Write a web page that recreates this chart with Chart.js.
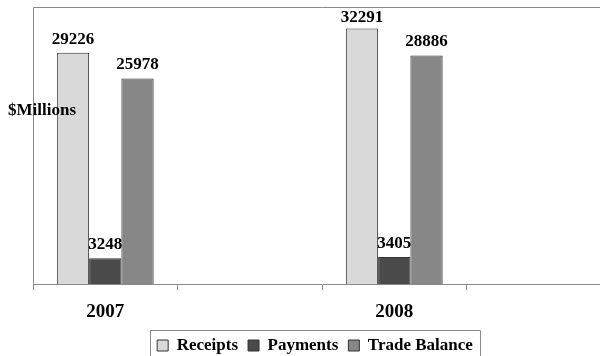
<!DOCTYPE html>
<html>
<head>
<meta charset="utf-8">
<script src="https://cdn.jsdelivr.net/npm/chart.js@4/dist/chart.umd.min.js"></script>
<style>
  html, body { margin: 0; padding: 0; background: #fff; overflow: hidden; }
  #wrap { width: 611px; height: 364px; }
</style>
</head>
<body>
<div id="wrap"><canvas id="chart"></canvas></div>
<script>
// categories (empty slots keep the gaps the original axis has)
const years = ["2007", "", "2008", ""];
const receipts = [29226, null, 32291, null];
const payments = [3248, null, 3405, null];
const tradeBalance = [25978, null, 28886, null];
const seriesNames = ["Receipts", "Payments", "Trade Balance"];
const yMin = 0;
const yMax = 35000;

const serif = "'Liberation Serif', 'Times New Roman', serif";
const axisGray = "#8a8a8a";

// value labels above each bar + frame lines + unit text + legend frame
const decorPlugin = {
  id: "decor",
  afterLayout(chart) {
    // legend sits a bit left of the canvas centre in the original
    chart.legend.left -= 7;
    chart.legend.right -= 7;
  },
  afterDraw(chart) {
    const ctx = chart.ctx;
    const area = chart.chartArea;
    ctx.save();

    // left axis and top border
    ctx.strokeStyle = axisGray;
    ctx.lineWidth = 1;
    ctx.beginPath();
    ctx.moveTo(area.left + 0.5, area.bottom);
    ctx.lineTo(area.left + 0.5, area.top + 0.5);
    ctx.lineTo(area.right, area.top + 0.5);
    ctx.stroke();

    // value labels
    ctx.fillStyle = "#000";
    ctx.font = "bold 17px " + serif;
    ctx.textAlign = "center";
    ctx.textBaseline = "alphabetic";
    chart.data.datasets.forEach((ds, i) => {
      const meta = chart.getDatasetMeta(i);
      meta.data.forEach((bar, j) => {
        const v = ds.data[j];
        if (v == null) return;
        ctx.fillText(String(v), bar.x, Math.max(bar.y - 9, 22));
      });
    });

    // unit label
    ctx.textAlign = "left";
    ctx.fillText("$Millions", 8, 115);

    // legend frame
    const boxes = chart.legend.legendHitBoxes;
    if (boxes && boxes.length) {
      const first = boxes[0];
      const last = boxes[boxes.length - 1];
      ctx.strokeStyle = axisGray;
      ctx.beginPath();
      ctx.rect(Math.round(first.left) - 6.5, Math.round(first.top) - 6.5,
        Math.round(last.left + last.width - first.left) + 14, 40);
      ctx.stroke();
    }
    ctx.restore();
  }
};

const ctx = document.getElementById("chart").getContext("2d");
new Chart(ctx, {
  type: "bar",
  data: {
    labels: years,
    datasets: [
      { label: seriesNames[0], data: receipts, backgroundColor: "#d9d9d9", borderColor: "#333", borderWidth: 1 },
      { label: seriesNames[1], data: payments, backgroundColor: "#4a4a4a", borderColor: "#333", borderWidth: 1 },
      { label: seriesNames[2], data: tradeBalance, backgroundColor: "#878787", borderColor: "#333", borderWidth: 1 }
    ]
  },
  options: {
    responsive: true,
    maintainAspectRatio: false,
    animation: false,
    layout: { padding: { left: 33, top: 7, right: 0, bottom: 0 } },
    datasets: { bar: { categoryPercentage: 0.67, barPercentage: 1 } },
    plugins: {
      legend: {
        position: "bottom",
        labels: {
          boxWidth: 11,
          boxHeight: 11,
          padding: 10,
          color: "#000",
          font: { family: serif, size: 17, weight: "bold" }
        }
      },
      tooltip: { enabled: false }
    },
    scales: {
      x: {
        grid: { display: true, drawOnChartArea: false, drawTicks: true, tickLength: 6, color: axisGray, offset: true },
        border: { display: true, color: axisGray },
        ticks: { color: "#000", padding: 11, font: { family: serif, size: 19, weight: "bold" } },
        afterFit(scale) { scale.height = 43; }
      },
      y: {
        display: false,
        min: yMin,
        max: yMax
      }
    }
  },
  plugins: [decorPlugin]
});
</script>
</body>
</html>
